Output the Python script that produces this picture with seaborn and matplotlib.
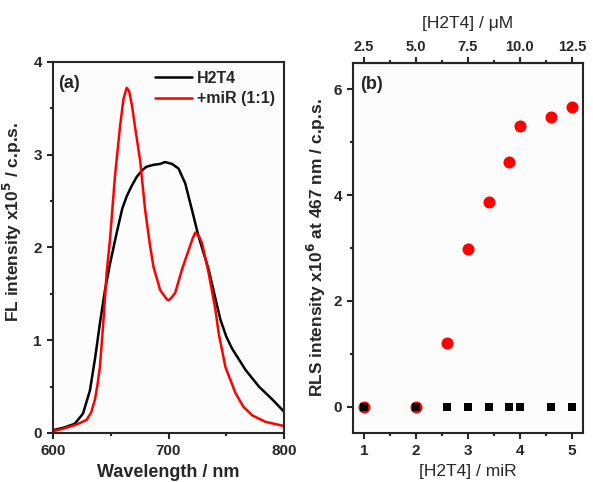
import numpy as np
import pandas as pd
import seaborn as sns
import matplotlib.pyplot as plt
from matplotlib.ticker import MultipleLocator, FixedLocator

sns.set_style("ticks")
plt.rcParams['font.family'] = ['Liberation Sans', 'DejaVu Sans']
plt.rcParams['font.weight'] = 'bold'
plt.rcParams['axes.labelweight'] = 'bold'
plt.rcParams['mathtext.default'] = 'bf'

# (a) fluorescence spectra
wl_h2t4 = [600, 610, 618.9, 626, 632, 636.6, 640.6, 645, 649.3, 655, 660, 663.8, 668,
           672.5, 677, 681, 687, 692.8, 697, 703, 708.7, 714.5, 720.4, 726, 734.8,
           740.6, 745, 750, 755, 766.7, 778.3, 790, 800]
fl_h2t4 = [0.03, 0.06, 0.10, 0.21, 0.46, 0.82, 1.18, 1.54, 1.82, 2.15, 2.42, 2.55, 2.66,
           2.76, 2.83, 2.87, 2.89, 2.90, 2.92, 2.90, 2.85, 2.69, 2.40, 2.12, 1.76,
           1.45, 1.22, 1.04, 0.91, 0.68, 0.50, 0.36, 0.23]
wl_mir = [600, 610, 620, 629, 633, 636.3, 638.5, 640.6, 643.5, 646.4, 649.3, 653.6, 658,
          661, 663.8, 666, 668.5, 671, 675.4, 679.8, 684, 687, 692.8, 698.6, 700, 702,
          705.8, 711.6, 717.4, 721, 723.2, 726, 729, 734.8, 740.6, 743.5, 749.3, 758,
          765, 772.5, 784, 800]
fl_mir = [0.02, 0.05, 0.09, 0.14, 0.22, 0.36, 0.52, 0.71, 1.18, 1.72, 2.08, 2.76, 3.30,
          3.60, 3.72, 3.68, 3.52, 3.30, 2.94, 2.40, 2.02, 1.79, 1.54, 1.44, 1.43, 1.45,
          1.51, 1.76, 1.97, 2.10, 2.16, 2.13, 2.05, 1.72, 1.33, 1.07, 0.71, 0.43,
          0.28, 0.19, 0.12, 0.075]

# (b) RLS intensity vs ratio
ratio = [1, 2, 2.6, 3, 3.4, 3.8, 4.0, 4.6, 5.0]
rls_mix = [0, 0, 1.2, 2.98, 3.87, 4.62, 5.3, 5.47, 5.67]
rls_h2t4 = [0, 0, 0, 0, 0, 0, 0, 0, 0]
conc_ticks = [2.5, 5.0, 7.5, 10.0, 12.5]
conc_minor = [3.75, 6.25, 8.75, 11.25]

dfa = pd.concat([
    pd.DataFrame({'wl': wl_h2t4, 'fl': fl_h2t4, 'sample': 'H2T4'}),
    pd.DataFrame({'wl': wl_mir, 'fl': fl_mir, 'sample': '+miR (1:1)'}),
])

fig = plt.figure(figsize=(5.93, 4.82), dpi=100)
ax1 = fig.add_axes([0.0894, 0.1017, 0.3895, 0.770])
ax2 = fig.add_axes([0.5953, 0.1017, 0.3875, 0.768])

sns.lineplot(ax=ax1, data=dfa, x='wl', y='fl', hue='sample',
             palette={'H2T4': 'black', '+miR (1:1)': '#ff0000'}, linewidth=1.8)
ax1.set(xlim=(600, 800), ylim=(0, 4))
ax1.xaxis.set_major_locator(MultipleLocator(100))
ax1.xaxis.set_minor_locator(MultipleLocator(50))
ax1.yaxis.set_major_locator(MultipleLocator(1))
ax1.yaxis.set_minor_locator(MultipleLocator(0.5))
ax1.set_xlabel('Wavelength / nm', fontsize=13, labelpad=4)
ax1.set_ylabel('FL intensity x10$^5$ / c.p.s.', fontsize=12.5)
ax1.yaxis.set_label_coords(-0.125, 0.57)
ax1.legend(loc='upper right', frameon=False, fontsize=11.5, handlelength=2.3,
           handletextpad=0.35, borderaxespad=0.15, labelspacing=0.35)
ax1.text(0.02, 0.965, '(a)', transform=ax1.transAxes, fontsize=13, va='top', ha='left')

sns.scatterplot(ax=ax2, x=ratio, y=rls_mix, marker='o', color='#ff0000', s=75,
                linewidth=0, zorder=2)
sns.scatterplot(ax=ax2, x=ratio, y=rls_h2t4, marker='s', color='black', s=28,
                linewidth=0, zorder=3)
ax2.set(xlim=(0.79, 5.21), ylim=(-0.5, 6.5))
ax2.xaxis.set_major_locator(MultipleLocator(1))
ax2.xaxis.set_minor_locator(MultipleLocator(0.5))
ax2.yaxis.set_major_locator(MultipleLocator(2))
ax2.yaxis.set_minor_locator(MultipleLocator(1))
ax2.set_xlabel('[H2T4] / miR', fontsize=12.5, labelpad=4, fontweight='normal')
ax2.set_ylabel('RLS intensity x10$^6$ at 467 nm / c.p.s.', fontsize=12.5, labelpad=4)
ax2.text(0.03, 0.965, '(b)', transform=ax2.transAxes, fontsize=13, va='top', ha='left')

top = ax2.secondary_xaxis('top', functions=(lambda r: r * 2.5, lambda c: c / 2.5))
top.xaxis.set_major_locator(FixedLocator(conc_ticks))
top.xaxis.set_minor_locator(FixedLocator(conc_minor))
top.xaxis.set_major_formatter(plt.FormatStrFormatter('%.1f'))
top.set_xlabel('[H2T4] / μM', fontsize=12.5, labelpad=9, fontweight='normal')
top.tick_params(which='major', length=4, width=1.5, labelsize=10.5, pad=2)
top.tick_params(which='minor', length=2.5, width=1.5)
top.spines['top'].set_linewidth(1.5)

for ax in (ax1, ax2):
    for sp in ax.spines.values():
        sp.set_visible(True)
        sp.set_linewidth(1.5)
    ax.tick_params(which='major', length=4, width=1.5, labelsize=11, pad=4,
                   direction='out', top=False, right=False)
    ax.tick_params(which='minor', length=2.5, width=1.5, direction='out',
                   top=False, right=False)
    ax.set_facecolor('#fcfcfc')

fig.savefig('out.png', dpi=100)
